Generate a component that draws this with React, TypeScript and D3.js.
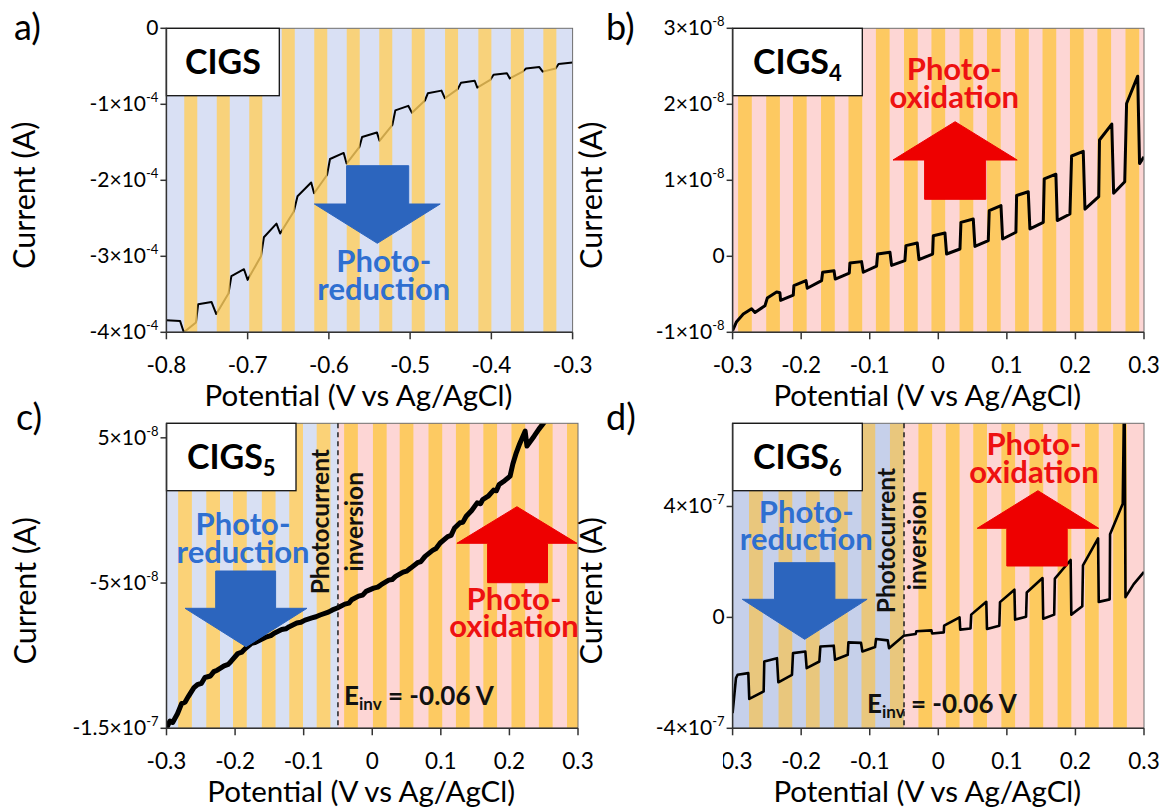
import React from 'react';
import * as d3 from 'd3';

// light-on intervals (start potential, V) read from the shaded stripes
const lightOnA = [-0.778, -0.738, -0.698, -0.658, -0.618, -0.578, -0.538, -0.498, -0.457, -0.416, -0.376, -0.336];
const lightOnB = [-0.292, -0.251, -0.212, -0.171, -0.131, -0.091, -0.05, -0.01, 0.031, 0.071, 0.112, 0.152, 0.192, 0.232, 0.273];
const lightOnC = [-0.283, -0.242, -0.203, -0.161, -0.121, -0.081, -0.041, 0.001, 0.04, 0.082, 0.122, 0.162, 0.203, 0.243, 0.284];
const lightOnD = [-0.276, -0.233, -0.193, -0.152, -0.112, -0.0705, -0.029, 0.011, 0.051, 0.092, 0.133, 0.174, 0.214, 0.255];

// photocurrent curves: [potential V, current A]
const curveA: [number, number][] = [
  [-0.8, -3.84e-4], [-0.7832, -3.85e-4], [-0.7786, -4.0e-4], [-0.7636, -3.87e-4], [-0.7609, -3.63e-4],
  [-0.7445, -3.6e-4], [-0.7386, -3.76e-4], [-0.7236, -3.49e-4], [-0.72, -3.26e-4], [-0.7045, -3.17e-4],
  [-0.7, -3.31e-4], [-0.6836, -3.0e-4], [-0.68, -2.75e-4], [-0.6645, -2.57e-4], [-0.66, -2.7e-4],
  [-0.6432, -2.41e-4], [-0.6386, -2.21e-4], [-0.6218, -2.03e-4], [-0.6182, -2.17e-4], [-0.6023, -1.93e-4],
  [-0.5986, -1.72e-4], [-0.5818, -1.64e-4], [-0.5782, -1.78e-4], [-0.5623, -1.56e-4], [-0.5591, -1.43e-4],
  [-0.5409, -1.37e-4], [-0.5377, -1.48e-4], [-0.5218, -1.27e-4], [-0.5182, -1.08e-4], [-0.5023, -1.02e-4],
  [-0.4977, -1.11e-4], [-0.4818, -0.95e-4], [-0.4782, -0.855e-4], [-0.4614, -0.82e-4], [-0.4573, -0.92e-4],
  [-0.4414, -0.8e-4], [-0.4373, -0.715e-4], [-0.4205, -0.69e-4], [-0.4173, -0.78e-4], [-0.4014, -0.68e-4],
  [-0.3973, -0.61e-4], [-0.3809, -0.59e-4], [-0.3773, -0.66e-4], [-0.3614, -0.57e-4], [-0.3573, -0.53e-4],
  [-0.3409, -0.51e-4], [-0.3368, -0.57e-4], [-0.3209, -0.53e-4], [-0.3173, -0.47e-4], [-0.3, -0.45e-4],
];

const curveB: [number, number][] = [
  [-0.3, -0.978e-8], [-0.2942, -0.86e-8], [-0.2844, -0.76e-8], [-0.2723, -0.69e-8], [-0.2674, -0.74e-8],
  [-0.2528, -0.65e-8], [-0.2494, -0.55e-8], [-0.2358, -0.47e-8], [-0.231, -0.48e-8], [-0.23, -0.58e-8],
  [-0.2115, -0.51e-8], [-0.2106, -0.386e-8], [-0.193, -0.32e-8], [-0.1911, -0.42e-8], [-0.1702, -0.32e-8],
  [-0.1687, -0.21e-8], [-0.1521, -0.19e-8], [-0.1503, -0.3e-8], [-0.1298, -0.22e-8], [-0.1289, -0.088e-8],
  [-0.1119, -0.07e-8], [-0.1094, -0.21e-8], [-0.09, -0.13e-8], [-0.0885, 0.03e-8], [-0.0705, 0.053e-8],
  [-0.0681, -0.12e-8], [-0.0487, -0.057e-8], [-0.0472, 0.14e-8], [-0.0307, 0.175e-8], [-0.0282, -0.044e-8],
  [-0.0083, 0.03e-8], [-0.0073, 0.27e-8], [0.0097, 0.307e-8], [0.0121, 0.03e-8], [0.0316, 0.096e-8],
  [0.033, 0.447e-8], [0.051, 0.49e-8], [0.0534, 0.13e-8], [0.0729, 0.206e-8], [0.0743, 0.6e-8],
  [0.0914, 0.667e-8], [0.0938, 0.228e-8], [0.1132, 0.316e-8], [0.1142, 0.8e-8], [0.1312, 0.85e-8],
  [0.1336, 0.36e-8], [0.1531, 0.447e-8], [0.1545, 1.02e-8], [0.1715, 1.08e-8], [0.1735, 0.47e-8],
  [0.192, 0.557e-8], [0.1944, 1.32e-8], [0.2114, 1.38e-8], [0.2139, 0.62e-8], [0.234, 0.785e-8],
  [0.2351, 1.53e-8], [0.253, 1.74e-8], [0.2557, 0.83e-8], [0.2719, 0.98e-8], [0.2746, 2.01e-8],
  [0.2908, 2.37e-8], [0.2935, 1.22e-8], [0.3, 1.31e-8],
];

const curveC: [number, number][] = [
  [-0.3, -1.5e-7], [-0.295, -1.45e-7], [-0.291, -1.46e-7], [-0.284, -1.4e-7], [-0.278, -1.33e-7],
  [-0.273, -1.32e-7], [-0.268, -1.28e-7], [-0.26, -1.22e-7], [-0.255, -1.2e-7], [-0.249, -1.19e-7],
  [-0.244, -1.15e-7], [-0.236, -1.14e-7], [-0.231, -1.11e-7], [-0.226, -1.1e-7], [-0.216, -1.07e-7],
  [-0.21, -1.06e-7], [-0.206, -1.04e-7], [-0.196, -0.985e-7], [-0.19, -0.975e-7], [-0.186, -0.955e-7],
  [-0.176, -0.915e-7], [-0.171, -0.91e-7], [-0.165, -0.895e-7], [-0.154, -0.87e-7], [-0.148, -0.862e-7],
  [-0.143, -0.845e-7], [-0.132, -0.82e-7], [-0.126, -0.815e-7], [-0.121, -0.8e-7], [-0.11, -0.775e-7],
  [-0.104, -0.77e-7], [-0.098, -0.755e-7], [-0.088, -0.74e-7], [-0.082, -0.732e-7], [-0.076, -0.72e-7],
  [-0.064, -0.7e-7], [-0.058, -0.685e-7], [-0.051, -0.672e-7], [-0.04, -0.645e-7], [-0.034, -0.638e-7],
  [-0.03, -0.615e-7], [-0.02, -0.59e-7], [-0.014, -0.583e-7], [-0.009, -0.557e-7], [0.002, -0.535e-7],
  [0.008, -0.528e-7], [0.013, -0.511e-7], [0.024, -0.48e-7], [0.029, -0.476e-7], [0.034, -0.454e-7],
  [0.045, -0.425e-7], [0.05, -0.418e-7], [0.056, -0.397e-7], [0.066, -0.36e-7], [0.071, -0.352e-7],
  [0.077, -0.316e-7], [0.088, -0.275e-7], [0.093, -0.262e-7], [0.099, -0.224e-7], [0.11, -0.18e-7],
  [0.115, -0.172e-7], [0.12, -0.121e-7], [0.128, -0.085e-7], [0.132, -0.082e-7], [0.137, -0.04e-7],
  [0.145, 0.0], [0.153, 0.052e-7], [0.158, 0.046e-7], [0.161, 0.075e-7], [0.169, 0.098e-7],
  [0.177, 0.14e-7], [0.181, 0.135e-7], [0.185, 0.178e-7], [0.193, 0.205e-7], [0.201, 0.236e-7],
  [0.205, 0.32e-7], [0.21, 0.397e-7], [0.215, 0.46e-7], [0.2229, 0.546e-7], [0.2256, 0.443e-7],
  [0.236, 0.511e-7], [0.243, 0.56e-7], [0.25, 0.603e-7], [0.256, 0.65e-7],
];

const curveD: [number, number][] = [
  [-0.3, -3.45e-7], [-0.2951, -2.19e-7], [-0.2927, -2.07e-7], [-0.2771, -2.01e-7], [-0.2757, -2.94e-7],
  [-0.2547, -2.67e-7], [-0.2538, -1.59e-7], [-0.2353, -1.47e-7], [-0.2333, -2.34e-7], [-0.2134, -2.07e-7],
  [-0.2119, -1.29e-7], [-0.1939, -1.23e-7], [-0.192, -1.83e-7], [-0.1735, -1.59e-7], [-0.172, -1.05e-7],
  [-0.1525, -1.02e-7], [-0.1506, -1.53e-7], [-0.1321, -1.35e-7], [-0.1311, -0.9e-7], [-0.1127, -0.92e-7],
  [-0.1107, -1.23e-7], [-0.0922, -1.07e-7], [-0.0908, -0.78e-7], [-0.0737, -0.83e-7], [-0.0718, -1.11e-7],
  [-0.0504, -0.66e-7], [-0.033, -0.6e-7], [-0.032, -0.5e-7], [-0.01, -0.47e-7], [-0.009, -0.58e-7],
  [0.008, -0.54e-7], [0.0085, -0.3e-7], [0.031, 0.0], [0.032, -0.44e-7], [0.047, -0.4e-7],
  [0.048, 0.1e-7], [0.07, 0.56e-7], [0.071, -0.42e-7], [0.089, -0.3e-7], [0.09, 0.55e-7],
  [0.111, 1.0e-7], [0.112, -0.08e-7], [0.128, 0.02e-7], [0.129, 0.9e-7], [0.152, 1.42e-7],
  [0.153, -0.05e-7], [0.169, 0.1e-7], [0.17, 1.4e-7], [0.193, 2.07e-7], [0.194, 0.1e-7],
  [0.21, 0.4e-7], [0.211, 1.88e-7], [0.233, 2.85e-7], [0.234, 0.56e-7], [0.25, 0.65e-7],
  [0.2505, 3.0e-7], [0.269, 4.1e-7], [0.2715, 9.0e-7], [0.273, 0.73e-7], [0.285, 1.2e-7],
  [0.3, 1.64e-7],
];

// axis ticks and labels
const xTicksA = [-0.8, -0.7, -0.6, -0.5, -0.4, -0.3];
const xTicksBCD = [-0.3, -0.2, -0.1, 0, 0.1, 0.2, 0.3];
const yTicksA = [0, -1e-4, -2e-4, -3e-4, -4e-4];
const yLabelsA = [['0', ''], ['-1×10', '-4'], ['-2×10', '-4'], ['-3×10', '-4'], ['-4×10', '-4']];
const yTicksB = [3e-8, 2e-8, 1e-8, 0, -1e-8];
const yLabelsB = [['3×10', '-8'], ['2×10', '-8'], ['1×10', '-8'], ['0', ''], ['-1×10', '-8']];
const yTicksC = [5e-8, -5e-8, -1.5e-7];
const yLabelsC = [['5×10', '-8'], ['-5×10', '-8'], ['-1.5×10', '-7']];
const yTicksD = [4e-7, 0, -4e-7];
const yLabelsD = [['4×10', '-7'], ['0', ''], ['-4×10', '-7']];

const FONT = "Lato, 'Open Sans', sans-serif";
const BLUE_TXT = '#2f6fd0';
const RED_TXT = '#ee1111';
const BLUE_ARROW = '#2c65be';
const RED_ARROW = '#ee0000';

type Region = { from: number; to: number; fill: string; stripe: string };

type PanelSpec = {
  id: string;
  left: number; right: number; top: number; bottom: number;
  xDomain: [number, number]; yDomain: [number, number];
  xTicks: number[]; yTicks: number[]; yLabels: string[][];
  regions: Region[];
  lightOn: number[]; lightWidth: number;
  stripesOver?: boolean;
  curve: [number, number][]; lineWidth: number;
  box: { w: number; label: string; sub?: string };
  letter: string; letterX: number; letterY: number;
  dashAt?: number;
  labelClipLeft?: number;
  children?: React.ReactNode;
};

const tickText = (t: number) => (Math.abs(t) < 1e-9 ? '0' : t.toFixed(1));

function Panel(p: PanelSpec) {
  const x = d3.scaleLinear().domain(p.xDomain).range([p.left, p.right]);
  const y = d3.scaleLinear().domain(p.yDomain).range([p.bottom, p.top]);
  const line = d3.line<[number, number]>().x(d => x(d[0])).y(d => y(d[1]));
  const clipId = `clip-${p.id}`;
  const labClip = `lab-${p.id}`;

  const stripes = p.lightOn.map((s, i) => {
    const r = p.regions.find(g => s >= g.from - 1e-9 && s < g.to) || p.regions[0];
    const e = Math.min(s + p.lightWidth, p.xDomain[1]);
    return (
      <rect key={i} x={x(s)} y={p.top} width={x(e) - x(s)} height={p.bottom - p.top}
        fill={r.stripe} opacity={p.stripesOver ? 0.8 : 1} />
    );
  });

  return (
    <g>
      <defs>
        <clipPath id={clipId}>
          <rect x={p.left} y={p.top} width={p.right - p.left} height={p.bottom - p.top} />
        </clipPath>
        <clipPath id={labClip}>
          <rect x={p.labelClipLeft ?? 0} y={0} width={1161} height={808} />
        </clipPath>
      </defs>
      {p.regions.map((r, i) => (
        <rect key={i} x={x(r.from)} y={p.top} width={x(r.to) - x(r.from)} height={p.bottom - p.top} fill={r.fill} />
      ))}
      {!p.stripesOver && stripes}
      <path d={line(p.curve) || ''} fill="none" stroke="#000" strokeWidth={p.lineWidth}
        strokeLinejoin="round" clipPath={`url(#${clipId})`} />
      {p.stripesOver && stripes}
      <rect x={p.left} y={p.top} width={p.right - p.left} height={p.bottom - p.top} fill="none" stroke="#6e6e6e" strokeWidth={1} />
      {p.dashAt !== undefined && (
        <line x1={x(p.dashAt)} x2={x(p.dashAt)} y1={p.top} y2={p.bottom} stroke="#111" strokeWidth={1.4} strokeDasharray="5,4" />
      )}
      <rect x={p.left} y={p.top} width={p.box.w} height={67.4} fill="#fff" stroke="#111" strokeWidth={1.3} />
      <text x={p.left + p.box.w / 2} y={p.top + 46} textAnchor="middle" fontFamily={FONT} fontWeight="bold" fontSize={34}>
        {p.box.label}
        {p.box.sub && <tspan fontSize={22} dy={7}>{p.box.sub}</tspan>}
      </text>
      {p.children}
      {/* axes */}
      <line x1={p.left} x2={p.left} y1={p.top} y2={p.bottom} stroke="#333" strokeWidth={1.5} />
      <line x1={p.left} x2={p.right} y1={p.bottom} y2={p.bottom} stroke="#333" strokeWidth={1.5} />
      {p.yTicks.map((t, i) => (
        <g key={i}>
          <line x1={p.left - 6} x2={p.left} y1={y(t)} y2={y(t)} stroke="#333" strokeWidth={1.5} />
          <text x={p.left - 8} y={y(t) + 7} textAnchor="end" fontFamily={FONT} fontSize={21}>
            {p.yLabels[i][0]}
            {p.yLabels[i][1] && <tspan fontSize={13} dy={-9}>{p.yLabels[i][1]}</tspan>}
          </text>
        </g>
      ))}
      <g clipPath={`url(#${labClip})`}>
        {p.xTicks.map((t, i) => (
          <g key={i}>
            <line x1={x(t)} x2={x(t)} y1={p.bottom} y2={p.bottom + 7} stroke="#333" strokeWidth={1.5} />
            <text x={x(t)} y={p.bottom + 41} textAnchor="middle" fontFamily={FONT} fontSize={22.5}>
              {tickText(t)}
            </text>
          </g>
        ))}
      </g>
      <text x={p.left + (p.right - p.left) / 2 - 11} y={p.bottom + 74} textAnchor="middle" fontFamily={FONT} fontSize={29.5}>
        Potential (V vs Ag/AgCl)
      </text>
      <text transform={`translate(${p.left - 131},${(p.top + p.bottom) / 2 + 15}) rotate(-90)`} textAnchor="middle"
        fontFamily={FONT} fontSize={30.5}>
        Current (A)
      </text>
      <text x={p.letterX} y={p.letterY} fontFamily={FONT} fontSize={36}>{p.letter}</text>
    </g>
  );
}

function Arrow(a: { up: boolean; sx0: number; sx1: number; sTop: number; sBot: number; hx0: number; hx1: number; tip: number; fill: string }) {
  const tx = (a.hx0 + a.hx1) / 2;
  const pts = a.up
    ? [[tx, a.tip], [a.hx1, a.sTop], [a.sx1, a.sTop], [a.sx1, a.sBot], [a.sx0, a.sBot], [a.sx0, a.sTop], [a.hx0, a.sTop]]
    : [[a.sx0, a.sTop], [a.sx1, a.sTop], [a.sx1, a.sBot], [a.hx1, a.sBot], [tx, a.tip], [a.hx0, a.sBot], [a.sx0, a.sBot]];
  return <polygon points={pts.map(q => q.join(',')).join(' ')} fill={a.fill} stroke={a.fill} strokeWidth={1} />;
}

function Label2({ x, y1, y2, l1, l2, color }: { x: number; y1: number; y2: number; l1: string; l2: string; color: string }) {
  return (
    <text fontFamily={FONT} fontWeight="bold" fontSize={31} fill={color} textAnchor="middle">
      <tspan x={x} y={y1}>{l1}</tspan>
      <tspan x={x} y={y2}>{l2}</tspan>
    </text>
  );
}

function Inversion({ x1, x2, cy, ex, ey }: { x1: number; x2: number; cy: number; ex: number; ey: number }) {
  return (
    <g fontFamily={FONT} fontWeight="bold" fill="#111">
      <text transform={`translate(${x1},${cy}) rotate(-90)`} textAnchor="middle" fontSize={24.5}>Photocurrent</text>
      <text transform={`translate(${x2},${cy}) rotate(-90)`} textAnchor="middle" fontSize={24.5}>inversion</text>
      <text x={ex} y={ey} fontSize={26}>
        E<tspan fontSize={17} dy={5}>inv</tspan><tspan dy={-5}> = -0.06 V</tspan>
      </text>
    </g>
  );
}

export default function App() {
  const blueA = { fill: '#d9e0f4', stripe: '#ffce5c' };
  const pinkB = { fill: '#fdd6d4', stripe: '#fdc961' };
  const blueC = { fill: '#d8e0f3', stripe: '#fbd277' };
  const pinkC = { fill: '#fdd6d5', stripe: '#fdca62' };
  const blueD = { fill: '#c6d0ea', stripe: '#e9c77d' };
  const pinkD = { fill: '#fdd5d3', stripe: '#fdca5f' };

  return (
    <svg width={1161} height={808} style={{ position: 'absolute', left: 0, top: 0, background: '#fff' }}>
      <rect width={1161} height={808} fill="#fff" />
      <Panel id="a" left={166.4} right={572.6} top={28.3} bottom={332.3}
        xDomain={[-0.8, -0.3]} yDomain={[-4e-4, 0]} xTicks={xTicksA} yTicks={yTicksA} yLabels={yLabelsA}
        regions={[{ from: -0.8, to: -0.3, ...blueA }]} lightOn={lightOnA} lightWidth={0.016} stripesOver
        curve={curveA} lineWidth={2} box={{ w: 112.9, label: 'CIGS' }} letter="a)" letterX={14} letterY={40}>
        <Arrow up={false} sx0={346.6} sx1={408.7} sTop={165.7} sBot={204} hx0={314.4} hx1={440.2} tip={243.3} fill={BLUE_ARROW} />
        <Label2 x={383.8} y1={271.7} y2={300} l1="Photo-" l2="reduction" color={BLUE_TXT} />
      </Panel>
      <Panel id="b" left={732.6} right={1144} top={28.3} bottom={332.3}
        xDomain={[-0.3, 0.3]} yDomain={[-1e-8, 3e-8]} xTicks={xTicksBCD} yTicks={yTicksB} yLabels={yLabelsB}
        regions={[{ from: -0.3, to: 0.3, ...pinkB }]} lightOn={lightOnB} lightWidth={0.02}
        curve={curveB} lineWidth={3} box={{ w: 129.7, label: 'CIGS', sub: '4' }} letter="b)" letterX={606} letterY={40}>
        <Arrow up sx0={924.6} sx1={985.7} sTop={160} sBot={199.3} hx0={893} hx1={1017.2} tip={121.7} fill={RED_ARROW} />
        <Label2 x={954.2} y1={80} y2={108.3} l1="Photo-" l2="oxidation" color={RED_TXT} />
      </Panel>
      <Panel id="c" left={166.5} right={578} top={423.3} bottom={728.3}
        xDomain={[-0.3, 0.3]} yDomain={[-1.5e-7, 6e-8]} xTicks={xTicksBCD} yTicks={yTicksC} yLabels={yLabelsC}
        regions={[{ from: -0.3, to: -0.05, ...blueC }, { from: -0.05, to: 0.3, ...pinkC }]} lightOn={lightOnC} lightWidth={0.02}
        curve={curveC} lineWidth={5} box={{ w: 129.5, label: 'CIGS', sub: '5' }} letter="c)" letterX={16} letterY={430} dashAt={-0.05}>
        <Arrow up={false} sx0={215.7} sx1={275.6} sTop={571} sBot={608.3} hx0={185} hx1={307} tip={646.7} fill={BLUE_ARROW} />
        <Label2 x={243} y1={535} y2={562.7} l1="Photo-" l2="reduction" color={BLUE_TXT} />
        <Arrow up sx0={487.6} sx1={547.5} sTop={543.3} sBot={582.7} hx0={456.9} hx1={577} tip={506.7} fill={RED_ARROW} />
        <Label2 x={514} y1={610} y2={637.3} l1="Photo-" l2="oxidation" color={RED_TXT} />
        <Inversion x1={329} x2={363} cy={521.7} ex={344} ey={705} />
      </Panel>
      <Panel id="d" left={732.6} right={1144} top={423.3} bottom={728.3}
        xDomain={[-0.3, 0.3]} yDomain={[-4e-7, 7e-7]} xTicks={xTicksBCD} yTicks={yTicksD} yLabels={yLabelsD}
        regions={[{ from: -0.3, to: -0.05, ...blueD }, { from: -0.05, to: 0.3, ...pinkD }]} lightOn={lightOnD} lightWidth={0.02}
        curve={curveD} lineWidth={2.6} box={{ w: 129.7, label: 'CIGS', sub: '6' }} letter="d)" letterX={606} letterY={430}
        dashAt={-0.05} labelClipLeft={723}>
        <Arrow up={false} sx0={774.5} sx1={834.9} sTop={562.7} sBot={599.3} hx0={742.3} hx1={867.1} tip={639.3} fill={BLUE_ARROW} />
        <Label2 x={806.3} y1={522.7} y2={550} l1="Photo-" l2="reduction" color={BLUE_TXT} />
        <Arrow up sx0={1006.8} sx1={1067.2} sTop={528.3} sBot={566} hx0={977.2} hx1={1098.7} tip={490.7} fill={RED_ARROW} />
        <Label2 x={1033.9} y1={455} y2={483.3} l1="Photo-" l2="oxidation" color={RED_TXT} />
        <Inversion x1={895} x2={926} cy={540.6} ex={867} ey={713.3} />
      </Panel>
    </svg>
  );
}
